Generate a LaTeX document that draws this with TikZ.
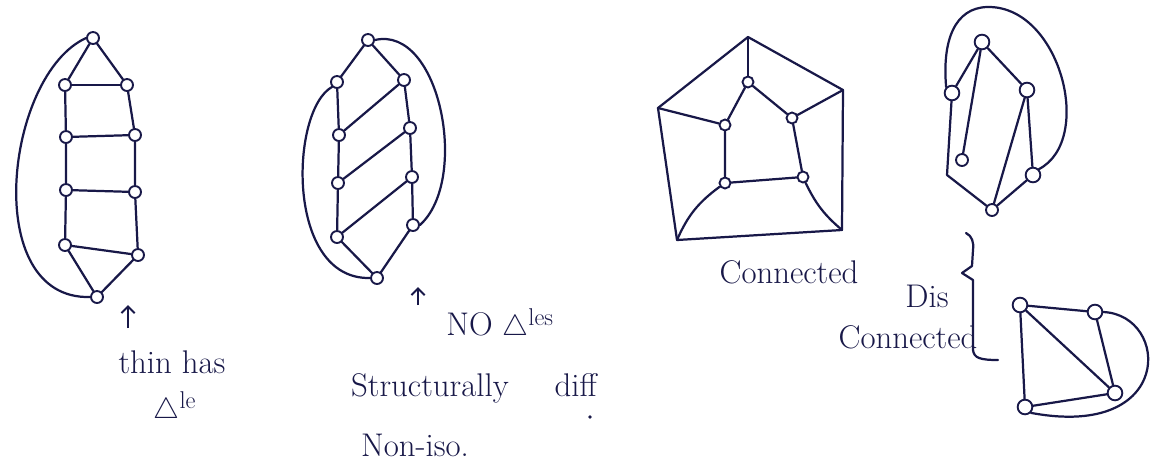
\documentclass[tikz,border=0pt]{standalone}
\usepackage{amsmath,amssymb}
\usepackage{tikz}
\usetikzlibrary{arrows.meta,calc,positioning}
\definecolor{ink}{RGB}{24,24,72}
\tikzset{
  vtx/.style={
    circle, draw=ink, fill=white, line width=1.6pt,
    minimum size=3.6mm, inner sep=0pt
  },
  bigvtx/.style={vtx, minimum size=4.4mm},
  edge/.style={draw=ink, line width=1.9pt, line cap=round, line join=round},
  uparrow/.style={-{Straight Barb[length=2mm,width=4mm]}, line width=1.7pt, draw=ink},
  note/.style={font=\fontsize{28}{32}\selectfont, text=ink, inner sep=0pt, align=center},
  inkdot/.style={circle, fill=ink, inner sep=0pt, minimum size=1.1mm}
}

\begin{document}
\begin{tikzpicture}[x=0.03cm,y=-0.03cm]
  \useasboundingbox (0,0) rectangle (1165,462);

  % ladder with triangles
  \node[vtx] (lt) at (93,38) {};
  \node[vtx] (la1) at (65,85) {};
  \node[vtx] (lb1) at (127,85) {};
  \node[vtx] (la2) at (66,137) {};
  \node[vtx] (lb2) at (135,135) {};
  \node[vtx] (la3) at (66,190) {};
  \node[vtx] (lb3) at (135,192) {};
  \node[vtx] (la4) at (65,245) {};
  \node[vtx] (lb4) at (138,255) {};
  \node[vtx] (lbot) at (97,297) {};

  \draw[edge] (lt) -- (la1);
  \draw[edge] (lt) -- (lb1);
  \draw[edge] (la1) -- (la2) -- (la3) -- (la4) -- (lbot);
  \draw[edge] (lb1) -- (lb2) -- (lb3) -- (lb4) -- (lbot);
  \draw[edge] (la1) -- (lb1);
  \draw[edge] (la2) -- (lb2);
  \draw[edge] (la3) -- (lb3);
  \draw[edge] (la4) -- (lb4);
  \draw[edge] (lt.west) .. controls (5,75) and (-20,300) .. (lbot.west);

  \coordinate (ar1s) at (128,328);
  \coordinate (ar1e) at (128,305);
  \draw[uparrow] (ar1s) -- (ar1e);
  \node[note] (has) at (172,362) {thin has};
  \node[note] (tri) at (175,408) {$\triangle^{\mathrm{le}}$};

  % slanted ladder
  \node[vtx] (st) at (368,40) {};
  \node[vtx] (sa1) at (337,82) {};
  \node[vtx] (sb1) at (404,80) {};
  \node[vtx] (sa2) at (339,135) {};
  \node[vtx] (sb2) at (410,128) {};
  \node[vtx] (sa3) at (338,183) {};
  \node[vtx] (sb3) at (412,177) {};
  \node[vtx] (sa4) at (337,237) {};
  \node[vtx] (sb4) at (413,225) {};
  \node[vtx] (sbot) at (377,278) {};

  \draw[edge] (st) -- (sa1);
  \draw[edge] (st) -- (sb1);
  \draw[edge] (sa1) -- (sa2) -- (sa3) -- (sa4) -- (sbot);
  \draw[edge] (sb1) -- (sb2) -- (sb3) -- (sb4) -- (sbot);
  \draw[edge] (sa2) -- (sb1);
  \draw[edge] (sa3) -- (sb2);
  \draw[edge] (sa4) -- (sb3);
  \draw[edge] (sa1.south west) .. controls (290,110) and (285,280) .. (sbot.west);
  \draw[edge] (st.east) .. controls (440,25) and (470,180) .. (sb4.east);

  \coordinate (ar2s) at (418,305);
  \coordinate (ar2e) at (418,287);
  \draw[uparrow] (ar2s) -- (ar2e);
  \node[note] (none) at (500,325) {NO $\triangle^{\mathrm{les}}$};
  \node[note] (diff) at (474,388) {Structurally\hspace{1.4em}diff};
  \node[inkdot] (dot) at (590,417) {};
  \node[note] (noniso) at (415,445) {Non-iso.};

  % prism (connected)
  \coordinate (po1) at (748,37);
  \coordinate (po2) at (843,90);
  \coordinate (po3) at (842,230);
  \coordinate (po4) at (677,240);
  \coordinate (po5) at (658,108);
  \node[vtx, minimum size=3.3mm] (pi1) at (748,82) {};
  \node[vtx, minimum size=3.3mm] (pi2) at (792,118) {};
  \node[vtx, minimum size=3.3mm] (pi3) at (803,177) {};
  \node[vtx, minimum size=3.3mm] (pi4) at (725,183) {};
  \node[vtx, minimum size=3.3mm] (pi5) at (725,125) {};

  \draw[edge] (po1) -- (po2) -- (po3) -- (po4) -- (po5) -- cycle;
  \draw[edge] (pi1) -- (pi2) -- (pi3) -- (pi4) -- (pi5) -- (pi1);
  \draw[edge] (po1) -- (pi1);
  \draw[edge] (po2) -- (pi2);
  \draw[edge] (po5) -- (pi5);
  \draw[edge] (po3) to[bend left=12] (pi3);
  \draw[edge] (po4) to[bend left=15] (pi4);

  \node[note] (conn) at (789,272) {Connected};

  % K33-like
  \node[bigvtx] (kt) at (982,42) {};
  \node[bigvtx] (kl) at (952,93) {};
  \node[bigvtx] (kr) at (1027,90) {};
  \node[vtx] (kll) at (962,160) {};
  \node[bigvtx] (klr) at (1033,175) {};
  \node[vtx] (kb) at (992,210) {};
  \coordinate (kc) at (947,175);

  \draw[edge] (kt) -- (kl);
  \draw[edge] (kt) -- (kr);
  \draw[edge] (kt) -- (kll);
  \draw[edge] (kl) -- (kc) -- (kb);
  \draw[edge] (kr) -- (klr);
  \draw[edge] (kr) -- (kb);
  \draw[edge] (klr) -- (kb);
  \draw[edge] (kl.north west) .. controls (942,40) and (955,8) .. (987,7)
    .. controls (1060,5) and (1095,140) .. (klr.north east);

  % brace
  \coordinate (br1) at (966,233);
  \coordinate (br2) at (998,360);
  \draw[edge] (br1) .. controls (972,236) and (974,242) .. (973,250)
    -- (972,266) -- (962,273) -- (973,280) -- (973,350)
    .. controls (974,358) and (980,360) .. (br2);
  \node[note] (dis) at (927,296) {Dis};
  \node[note] (disconn) at (908,337) {Connected};

  % K4 (disconnected)
  \node[bigvtx] (qa) at (1020,305) {};
  \node[bigvtx] (qb) at (1095,312) {};
  \node[bigvtx] (qc) at (1115,393) {};
  \node[bigvtx] (qd) at (1025,407) {};

  \draw[edge] (qa) -- (qb);
  \draw[edge] (qa) -- (qc);
  \draw[edge] (qa) -- (qd);
  \draw[edge] (qd) -- (qc);
  \draw[edge] (qb) -- (qc);
  \draw[edge] (qb.east) .. controls (1170,315) and (1175,440) .. (qd.south east);
\end{tikzpicture}
\end{document}
